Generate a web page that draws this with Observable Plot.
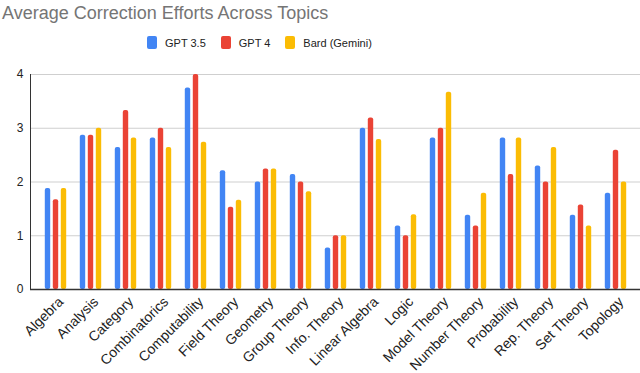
<!DOCTYPE html>
<html><head><meta charset="utf-8">
<script src="https://cdn.jsdelivr.net/npm/d3@7"></script>
<script src="https://cdn.jsdelivr.net/npm/@observablehq/plot@0.6"></script>
<style>
body{margin:0;background:#fff;font-family:"Liberation Sans",Arial,sans-serif;}
#title{height:30px;font-size:18px;color:#757575;padding-left:2px;line-height:26px;white-space:nowrap;}
#legend{height:25px;display:flex;align-items:center;font-size:11px;color:#222;padding-left:147px;}
.item{display:flex;align-items:center;margin-right:15px;}
.sw{width:10px;height:13px;border-radius:2px;margin-right:8px;}
</style></head><body>
<div id="title">Average Correction Efforts Across Topics</div>
<div id="legend"></div>
<div id="chart"></div>
<script>
const topics = ["Algebra","Analysis","Category","Combinatorics","Computability","Field Theory","Geometry","Group Theory","Info. Theory","Linear Algebra","Logic","Model Theory","Number Theory","Probability","Rep. Theory","Set Theory","Topology"];
const seriesNames = ["GPT 3.5","GPT 4","Bard (Gemini)"];
const gpt35 = [1.88,2.87,2.64,2.82,3.75,2.21,2.0,2.14,0.77,3.0,1.18,2.82,1.38,2.82,2.3,1.38,1.79];
const gpt4  = [1.67,2.87,3.33,3.0,4.0,1.53,2.24,2.0,1.0,3.19,1.0,3.0,1.18,2.14,2.0,1.57,2.59];
const bard  = [1.88,3.0,2.82,2.64,2.74,1.66,2.24,1.82,1.0,2.79,1.39,3.67,1.79,2.82,2.64,1.18,2.0];
const colors = ["#4285F4","#EA4335","#FBBC04"];
const yTicks = [0,1,2,3,4];

const seriesVals = [gpt35,gpt4,bard];
const legend = document.getElementById("legend");
seriesNames.forEach((n,i)=>{
  const d=document.createElement("div");d.className="item";
  d.innerHTML=`<div class="sw" style="background:${colors[i]}"></div><span>${n}</span>`;
  legend.appendChild(d);
});

const offsets = [-8,0,8];
const barMarks = seriesVals.map((vals,i)=>Plot.barY(topics.map((t,j)=>({topic:t,value:vals[j]})),{
  x:"topic", y:"value", fill:colors[i], dx:offsets[i], insetLeft:14.8, insetRight:14.8, rx:2
}));

const chart = Plot.plot({
  width:640, height:318,
  marginLeft:30, marginRight:0, marginTop:19, marginBottom:84,
  style:{fontFamily:"'Liberation Sans', Arial, sans-serif", fontSize:"12px", color:"#222", background:"#fff"},
  x:{domain:topics, paddingInner:0, paddingOuter:0.19, label:null},
  y:{domain:[0,4], ticks:yTicks, label:null, tickFormat:"d"},
  marks:[
    Plot.gridY(yTicks,{stroke:"#cfcfcf", strokeOpacity:1, strokeWidth:1}),
    ...barMarks,
    Plot.ruleY([0],{stroke:"#333", strokeWidth:1.5}),
    Plot.frame({anchor:"left", stroke:"#333"}),
    Plot.axisY(yTicks,{tickSize:0, tickPadding:7, fontSize:12, fill:"#222", tickFormat:"d"}),
    Plot.axisX({tickSize:0, tickRotate:-45, tickPadding:10, dx:5, fontSize:14, fill:"#222"})
  ]
});
document.getElementById("chart").appendChild(chart);
</script></body></html>
